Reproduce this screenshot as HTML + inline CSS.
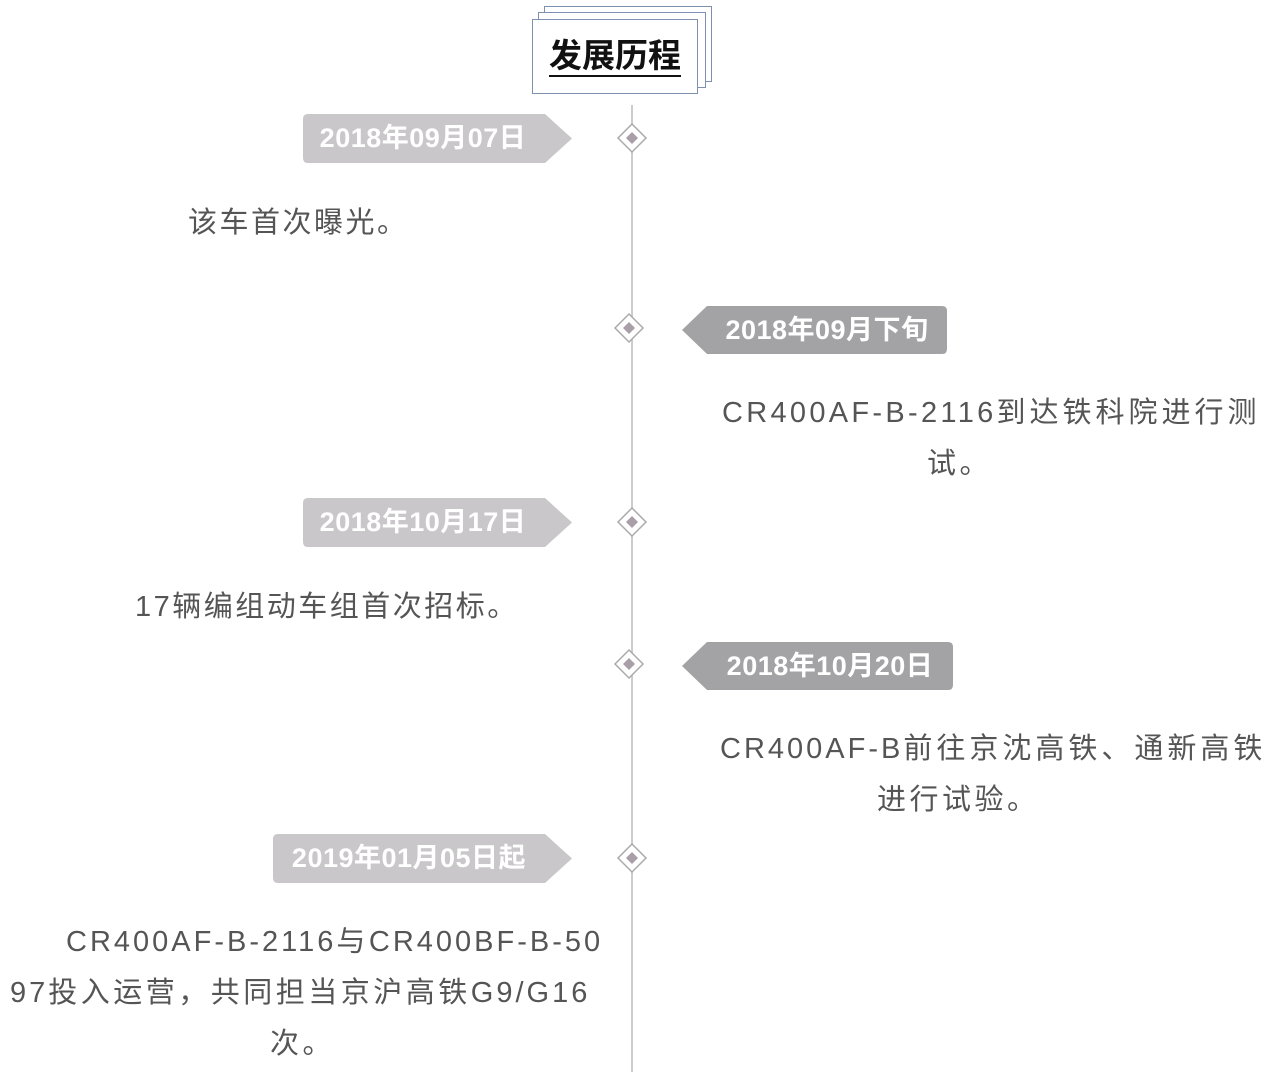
<!DOCTYPE html>
<html><head><meta charset="utf-8"><style>
body{margin:0;width:1274px;height:1072px;background:#fff;position:relative;overflow:hidden;font-family:"Liberation Sans","Noto Sans CJK SC",sans-serif;}
.a{position:absolute}
.t{position:absolute;color:#fff;font-weight:bold;font-size:27px;line-height:49px;text-align:center;letter-spacing:0.5px}
.p{position:absolute;color:#555;font-size:29px;line-height:51px;letter-spacing:3.5px;white-space:nowrap}
.p span{letter-spacing:3px}
</style></head><body>
<div class="a" style="left:544px;top:6px;width:166px;height:74px;border:1.5px solid #7e90b0;background:#fff"></div>
<div class="a" style="left:538px;top:12px;width:166px;height:74px;border:1.5px solid #7e90b0;background:#fff"></div>
<div class="a" style="left:532px;top:19px;width:164px;height:73px;border:1.5px solid #7e90b0;background:#fff;text-align:center;font-size:33px;font-weight:bold;line-height:72px;color:#111"><span style="border-bottom:2px solid #111;line-height:38px;display:inline-block">发展历程</span></div>
<div class="a" style="left:631px;top:105px;width:1.5px;height:967px;background:#ccc"></div>
<svg class="a" style="left:0;top:0" width="1274" height="1072">
<g fill="#fff" stroke="#aaa" stroke-width="1.5">
<path d="M632 124 L646 138 L632 152 L618 138Z"/><path d="M629 314 L643 328 L629 342 L615 328Z"/>
<path d="M632 508 L646 522 L632 536 L618 522Z"/><path d="M629 650 L643 664 L629 678 L615 664Z"/>
<path d="M632 844 L646 858 L632 872 L618 858Z"/></g>
<g fill="#a89fa8"><path d="M632 132 L638 138 L632 144 L626 138Z"/><path d="M629 322 L635 328 L629 334 L623 328Z"/>
<path d="M632 516 L638 522 L632 528 L626 522Z"/><path d="M629 658 L635 664 L629 670 L623 664Z"/>
<path d="M632 852 L638 858 L632 864 L626 858Z"/></g>
<g fill="#c9c7c9"><path d="M308 114 H545 L572 138.5 L545 163 H308 Q303 163 303 158 V119 Q303 114 308 114Z"/>
<path d="M308 498 H545 L572 522.5 L545 547 H308 Q303 547 303 542 V503 Q303 498 308 498Z"/>
<path d="M278 834 H545 L572 858.5 L545 883 H278 Q273 883 273 878 V839 Q273 834 278 834Z"/></g>
<g fill="#a3a2a5"><path d="M942 306 H707 L682 330 L707 354 H942 Q947 354 947 349 V311 Q947 306 942 306Z"/>
<path d="M948 642 H707 L682 666 L707 690 H948 Q953 690 953 685 V647 Q953 642 948 642Z"/></g>
</svg>
<div class="t" style="left:303px;top:114px;width:240px">2018年09月07日</div>
<div class="t" style="left:707px;top:306px;width:240px">2018年09月下旬</div>
<div class="t" style="left:303px;top:498px;width:240px">2018年10月17日</div>
<div class="t" style="left:707px;top:642px;width:246px">2018年10月20日</div>
<div class="t" style="left:273px;top:834px;width:272px">2019年01月05日起</div>
<div class="p" style="left:188px;top:198px;letter-spacing:2.5px">该车首次曝光。</div>
<div class="p" style="left:722px;top:388px;letter-spacing:4px"><span style="letter-spacing:3.3px">CR400AF-B-2116</span>到达铁科院进行测</div>
<div class="p" style="left:927px;top:439px">试。</div>
<div class="p" style="left:135px;top:582px;letter-spacing:2.5px">17辆编组动车组首次招标。</div>
<div class="p" style="left:720px;top:724px;letter-spacing:4px"><span>CR400AF-B</span>前往京沈高铁、通新高铁</div>
<div class="p" style="left:877px;top:775px">进行试验。</div>
<div class="p" style="left:66px;top:917px"><span>CR400AF-B-2116</span>与<span>CR400BF-B-50</span></div>
<div class="p" style="left:10px;top:968px"><span>97</span>投入运营，共同担当京沪高铁<span>G9/G16</span></div>
<div class="p" style="left:270px;top:1019px">次。</div>
</body></html>
